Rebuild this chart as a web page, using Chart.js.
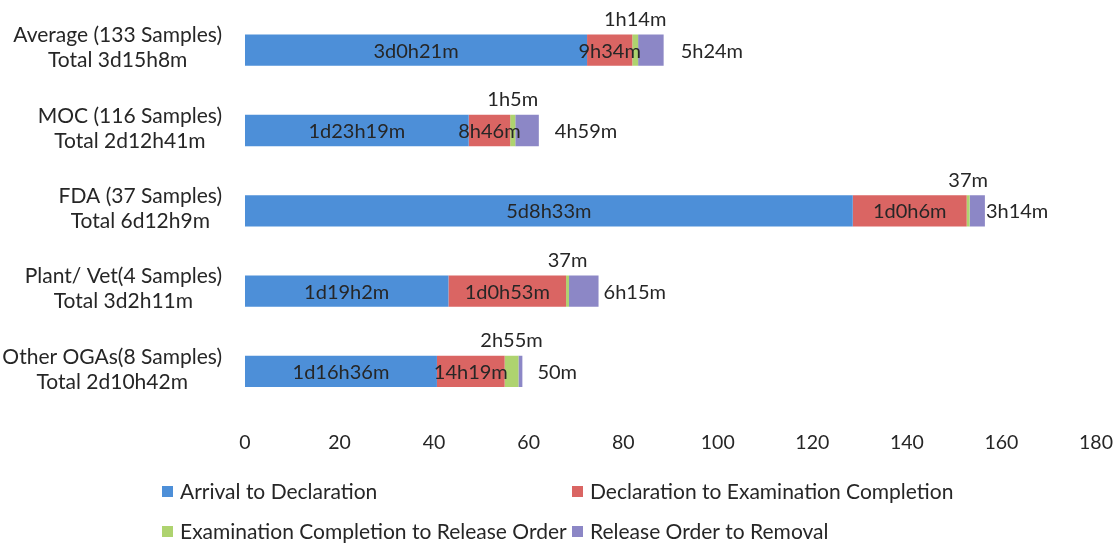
<!DOCTYPE html>
<html><head><meta charset="utf-8">
<script src="https://cdn.jsdelivr.net/npm/chart.js@4.4.1/dist/chart.umd.min.js"></script>
<style>html,body{margin:0;padding:0;background:#fff;} #wrap{width:1118px;height:545px;position:relative;}</style>
</head><body><div id="wrap"><canvas id="c" width="1118" height="545"></canvas></div>
<script>
// ---- data (hours) ----
const categories = [
  ['Average (133 Samples)', 'Total 3d15h8m'],
  ['MOC (116 Samples)', 'Total 2d12h41m'],
  ['FDA (37 Samples)', 'Total 6d12h9m'],
  ['Plant/ Vet(4 Samples)', 'Total 3d2h11m'],
  ['Other OGAs(8 Samples)', 'Total 2d10h42m']
];
const seriesNames = ['Arrival to Declaration', 'Declaration to Examination Completion', 'Examination Completion to Release Order', 'Release Order to Removal'];
const arrivalToDeclaration = [72.35, 47.32, 128.55, 43.03, 40.6];
const declarationToExam = [9.57, 8.77, 24.1, 24.88, 14.32];
const examToRelease = [1.23, 1.08, 0.62, 0.62, 2.92];
const releaseToRemoval = [5.4, 4.98, 3.23, 6.25, 0.83];
const arrivalLabels = ['3d0h21m', '1d23h19m', '5d8h33m', '1d19h2m', '1d16h36m'];
const declarationLabels = ['9h34m', '8h46m', '1d0h6m', '1d0h53m', '14h19m'];
const examLabels = ['1h14m', '1h5m', '37m', '37m', '2h55m'];
const releaseLabels = ['5h24m', '4h59m', '3h14m', '6h15m', '50m'];
const xTickValues = [0, 20, 40, 60, 80, 100, 120, 140, 160, 180];

// ---- styles ----
const FONT = 'Lato, "Open Sans", sans-serif';
const FS_TICK = 19.5;
const FS_DATA = 20;
const FS_TEXT = 21;
const TXT = '#262626';
const colors = ['#4d8fd8', '#da6563', '#aed36f', '#8c87c6'];
const removalLabelGap = [17, 16, 1, 5, 15];

const segLabels = [arrivalLabels, declarationLabels, examLabels, releaseLabels];

const labelPlugin = {
  id: 'segLabels',
  afterDatasetsDraw(chart) {
    const ctx = chart.ctx;
    ctx.save();
    ctx.font = FS_DATA + 'px ' + FONT;
    ctx.fillStyle = TXT;
    ctx.textBaseline = 'middle';
    for (let d = 0; d < 4; d++) {
      const meta = chart.getDatasetMeta(d);
      meta.data.forEach((el, i) => {
        const p = el.getProps(['x', 'y', 'base', 'height'], true);
        const txt = segLabels[d][i];
        const left = Math.min(p.x, p.base), right = Math.max(p.x, p.base);
        if (d === 0 || d === 1) {
          ctx.textAlign = 'center';
          ctx.fillText(txt, (left + right) / 2, p.y + 1);
        } else if (d === 2) {
          ctx.textAlign = 'center';
          ctx.fillText(txt, (left + right) / 2, p.y - p.height / 2 - 15);
        } else {
          ctx.textAlign = 'left';
          ctx.fillText(txt, right + removalLabelGap[i], p.y + 1);
        }
      });
    }
    ctx.restore();
  }
};

const sidePlugin = {
  id: 'sideLabels',
  afterDraw(chart) {
    const ctx = chart.ctx;
    const ys = chart.scales.y;
    ctx.save();
    ctx.font = FS_TEXT + 'px ' + FONT;
    ctx.fillStyle = TXT;
    ctx.textBaseline = 'middle';
    ctx.textAlign = 'center';
    const rightEdge = chart.chartArea.left - 23;
    categories.forEach((lines, i) => {
      const yc = ys.getPixelForValue(i) - 2;
      const w = Math.max(...lines.map(l => ctx.measureText(l).width));
      const cx = rightEdge - w / 2;
      const lh = 25;
      const y0 = yc - (lines.length - 1) * lh / 2;
      lines.forEach((l, k) => ctx.fillText(l, cx, y0 + k * lh));
    });
    // legend
    const cols = [162, 572];
    const rows = [492, 532];
    seriesNames.forEach((name, i) => {
      const x = cols[i % 2], y = rows[Math.floor(i / 2)];
      ctx.fillStyle = colors[i];
      ctx.fillRect(x, y - 6, 11, 11);
      ctx.fillStyle = TXT;
      ctx.textAlign = 'left';
      ctx.fillText(name, x + 18, y);
    });
    ctx.restore();
  }
};

new Chart(document.getElementById('c'), {
  type: 'bar',
  data: {
    labels: categories.map(c => c.join(' ')),
    datasets: [
      { label: seriesNames[0], data: arrivalToDeclaration, backgroundColor: colors[0] },
      { label: seriesNames[1], data: declarationToExam, backgroundColor: colors[1] },
      { label: seriesNames[2], data: examToRelease, backgroundColor: colors[2] },
      { label: seriesNames[3], data: releaseToRemoval, backgroundColor: colors[3] }
    ]
  },
  options: {
    indexAxis: 'y',
    responsive: false,
    animation: false,
    devicePixelRatio: 1,
    layout: { padding: { left: 245, right: 22, top: 10, bottom: 89 } },
    datasets: { bar: { barPercentage: 0.39, categoryPercentage: 1.0, borderWidth: 0 } },
    plugins: { legend: { display: false }, tooltip: { enabled: false } },
    scales: {
      x: {
        type: 'linear', stacked: true, min: 0, max: 180,
        afterBuildTicks(scale) { scale.ticks = xTickValues.map(v => ({ value: v })); },
        grid: { display: false, drawTicks: true, tickLength: 17 },
        border: { display: false },
        ticks: { color: TXT, font: { family: FONT, size: FS_TICK }, padding: 2 }
      },
      y: { type: 'category', stacked: true, display: false }
    }
  },
  plugins: [labelPlugin, sidePlugin]
});
</script>
</body></html>
